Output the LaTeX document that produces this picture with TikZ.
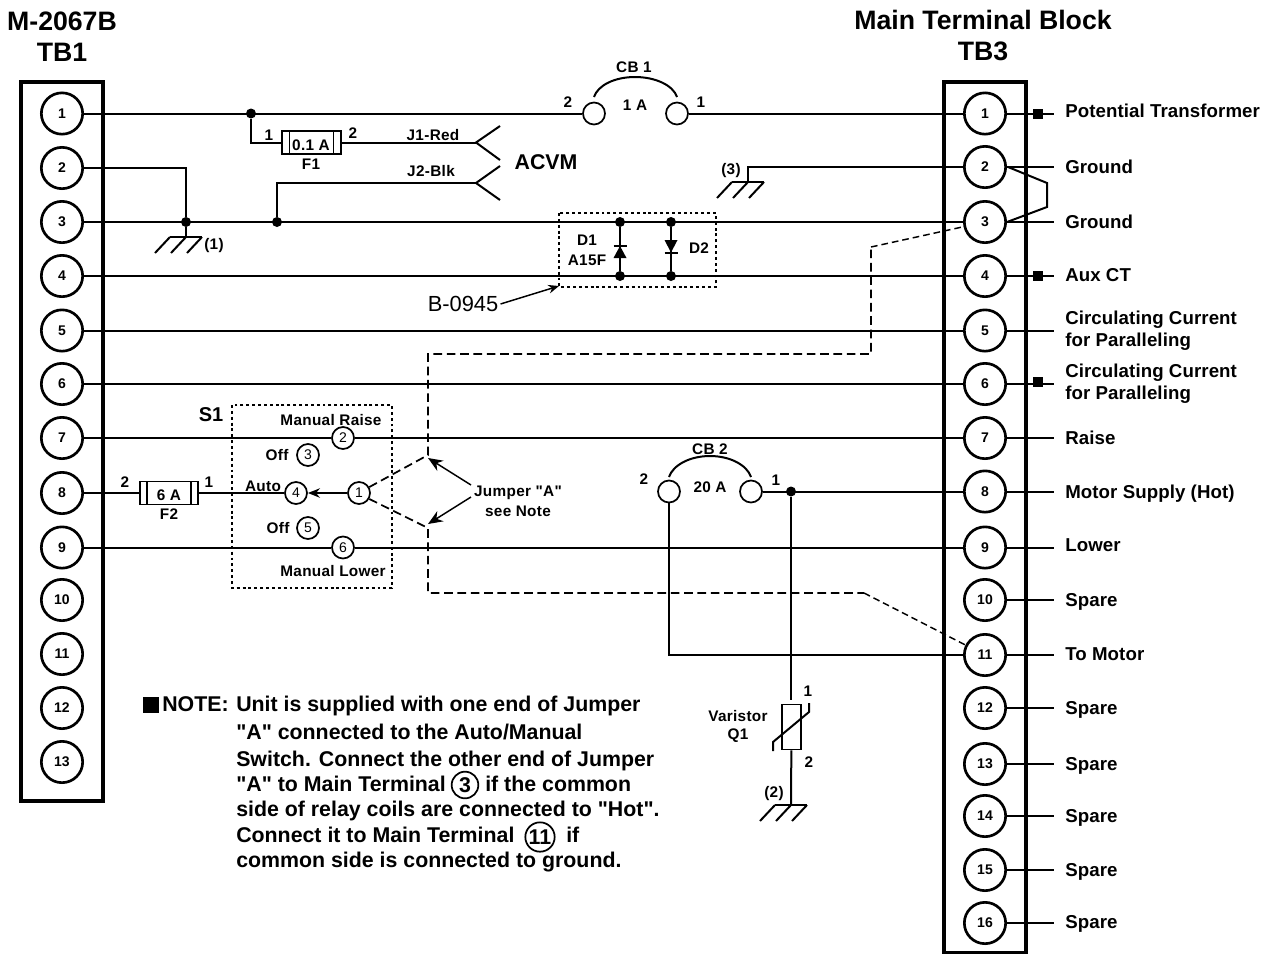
\documentclass[tikz,border=0pt]{standalone}
\usepackage{fontspec}
\setmainfont{Liberation Sans}[Ligatures=TeXOff]
\usetikzlibrary{arrows.meta}
\newcommand{\lblfont}{\bfseries\fontsize{11.5}{13}\selectfont\addfontfeature{LetterSpace=2}}
\newcommand{\sidefont}{\bfseries\fontsize{14}{16.5}\selectfont\addfontfeature{LetterSpace=0.5}}
\tikzset{
  wire/.style={line width=1.5pt},
  thinwire/.style={line width=1.1pt},
  jumper/.style={line width=1.3pt, dash pattern=on 6.5pt off 3.5pt},
  jumperthin/.style={line width=1.1pt, dash pattern=on 5pt off 3pt},
  dotbox/.style={line width=1.1pt, dash pattern=on 2.2pt off 2.2pt},
  tbframe/.style={line width=2.4pt},
  terminal/.style={draw, circle, line width=2pt, fill=white, minimum size=31pt, inner sep=0pt, font=\bfseries\fontsize{10.5}{12}\selectfont},
  swpos/.style={draw, circle, line width=1.3pt, fill=white, minimum size=16.5pt, inner sep=0pt, font=\fontsize{10.5}{12}\selectfont},
  notepos/.style={draw, circle, line width=1.3pt, inner sep=0pt},
  jct/.style={fill, circle, minimum size=7.5pt, inner sep=0pt},
  stubmark/.style={fill, rectangle, minimum size=7.5pt, inner sep=0pt},
  lbl/.style={inner sep=0pt, font=\lblfont},
  pinlbl/.style={inner sep=0pt, font=\lblfont},
  sidelbl/.style={inner sep=0pt, anchor=west, align=left, font=\sidefont},
  titlelbl/.style={inner sep=0pt, font=\bfseries\fontsize{20}{24}\selectfont},
  notelbl/.style={inner sep=0pt, anchor=base west, font=\bfseries\fontsize{16}{18}\selectfont},
  hatch/.pic={
    \draw[wire] (-16, 0) -- (16, 0) ;
    \draw[wire] (-16, 0) -- ++ (-15, 16) ;
    \draw[wire] (0, 0) -- ++ (-15, 16) ;
    \draw[wire] (16, 0) -- ++ (-15, 16) ;
  },
}
\begin{document}
\begin{tikzpicture}[x=0.75pt, y=-0.75pt]
    \useasboundingbox (0, 0) rectangle (1270, 954) ;
    \node[titlelbl] (titlem) at (62, 21) {M-2067B} ;
    \node[titlelbl] (titletbl) at (62, 52) {TB1} ;
    \node[titlelbl] (titlemain) at (983, 20) {Main Terminal Block} ;
    \node[titlelbl] (titletbr) at (983, 51) {TB3} ;
    \draw[tbframe] (21, 82) rectangle (103, 801) ;
    \draw[tbframe] (944, 82) rectangle (1026, 952.5) ;
    \node[terminal] (tbl1) at (62, 113.5) {1} ;
    \node[terminal] (tbl2) at (62, 168) {2} ;
    \node[terminal] (tbl3) at (62, 222) {3} ;
    \node[terminal] (tbl4) at (62, 276) {4} ;
    \node[terminal] (tbl5) at (62, 330.5) {5} ;
    \node[terminal] (tbl6) at (62, 384) {6} ;
    \node[terminal] (tbl7) at (62, 438) {7} ;
    \node[terminal] (tbl8) at (62, 493) {8} ;
    \node[terminal] (tbl9) at (62, 547.5) {9} ;
    \node[terminal] (tbl10) at (62, 600) {10} ;
    \node[terminal] (tbl11) at (62, 654) {11} ;
    \node[terminal] (tbl12) at (62, 708) {12} ;
    \node[terminal] (tbl13) at (62, 762) {13} ;
    \node[terminal] (tbr1) at (985, 113.5) {1} ;
    \node[terminal] (tbr2) at (985, 167) {2} ;
    \node[terminal] (tbr3) at (985, 222) {3} ;
    \node[terminal] (tbr4) at (985, 276) {4} ;
    \node[terminal] (tbr5) at (985, 330.5) {5} ;
    \node[terminal] (tbr6) at (985, 384) {6} ;
    \node[terminal] (tbr7) at (985, 438) {7} ;
    \node[terminal] (tbr8) at (985, 491.5) {8} ;
    \node[terminal] (tbr9) at (985, 547.5) {9} ;
    \node[terminal] (tbr10) at (985, 600) {10} ;
    \node[terminal] (tbr11) at (985, 655) {11} ;
    \node[terminal] (tbr12) at (985, 708) {12} ;
    \node[terminal] (tbr13) at (985, 764) {13} ;
    \node[terminal] (tbr14) at (985, 816) {14} ;
    \node[terminal] (tbr15) at (985, 870) {15} ;
    \node[terminal] (tbr16) at (985, 923) {16} ;
    \node[sidelbl] (namea) at (1065, 111) {Potential Transformer} ;
    \node[sidelbl] (nameb) at (1065, 167) {Ground} ;
    \node[sidelbl] (namec) at (1065, 222) {Ground} ;
    \node[sidelbl] (named) at (1065, 275) {Aux CT} ;
    \node[sidelbl] (namee) at (1065, 331) {Circulating Current\\for Paralleling} ;
    \node[sidelbl] (namef) at (1065, 384) {Circulating Current\\for Paralleling} ;
    \node[sidelbl] (nameg) at (1065, 438) {Raise} ;
    \node[sidelbl] (nameh) at (1065, 494) {Motor Supply (Hot)} ;
    \node[sidelbl] (namei) at (1065, 545) {Lower} ;
    \node[sidelbl] (namej) at (1065, 602) {Spare} ;
    \node[sidelbl] (namek) at (1065, 654) {To Motor} ;
    \node[sidelbl] (namel) at (1065, 710) {Spare} ;
    \node[sidelbl] (namem) at (1065, 766) {Spare} ;
    \node[sidelbl] (namen) at (1065, 818) {Spare} ;
    \node[sidelbl] (nameo) at (1065, 872) {Spare} ;
    \node[sidelbl] (namep) at (1065, 924) {Spare} ;
    \coordinate (stuba) at (1054, 113.5) ;
    \coordinate (stubb) at (1054, 167) ;
    \coordinate (stubc) at (1054, 222) ;
    \coordinate (stubd) at (1054, 276) ;
    \coordinate (stube) at (1054, 330.5) ;
    \coordinate (stubf) at (1054, 384) ;
    \coordinate (stubg) at (1054, 438) ;
    \coordinate (stubh) at (1054, 491.5) ;
    \coordinate (stubi) at (1054, 547.5) ;
    \coordinate (stubj) at (1054, 600) ;
    \coordinate (stubk) at (1054, 655) ;
    \coordinate (stubl) at (1054, 708) ;
    \coordinate (stubm) at (1054, 764) ;
    \coordinate (stubn) at (1054, 816) ;
    \coordinate (stubo) at (1054, 870) ;
    \coordinate (stubp) at (1054, 923) ;
    \draw[wire] (tbr1) -- (stuba) ;
    \draw[wire] (tbr2) -- (stubb) ;
    \draw[wire] (tbr3) -- (stubc) ;
    \draw[wire] (tbr4) -- (stubd) ;
    \draw[wire] (tbr5) -- (stube) ;
    \draw[wire] (tbr6) -- (stubf) ;
    \draw[wire] (tbr7) -- (stubg) ;
    \draw[wire] (tbr8) -- (stubh) ;
    \draw[wire] (tbr9) -- (stubi) ;
    \draw[wire] (tbr10) -- (stubj) ;
    \draw[wire] (tbr11) -- (stubk) ;
    \draw[wire] (tbr12) -- (stubl) ;
    \draw[wire] (tbr13) -- (stubm) ;
    \draw[wire] (tbr14) -- (stubn) ;
    \draw[wire] (tbr15) -- (stubo) ;
    \draw[wire] (tbr16) -- (stubp) ;
    \node[stubmark] (marka) at (1038, 113.5) {} ;
    \node[stubmark] (markd) at (1038, 276) {} ;
    \node[stubmark] (markf) at (1038, 382) {} ;
    \coordinate (bridgea) at (1047, 183) ;
    \coordinate (bridgeb) at (1047, 207) ;
    \draw[wire] (tbr2.east) ++ (1, 0) -- (bridgea) -- (bridgeb) -- (tbr3.east) ;
    \node[swpos] (cbaleft) at (594, 113.5) {} ;
    \node[swpos] (cbaright) at (677, 113.5) {} ;
    \draw[wire] (tbl1) -- (cbaleft) ;
    \draw[wire] (cbaright) -- (tbr1) ;
    \draw[wire] (594, 97) .. controls (598, 85) and (615, 77) .. (635, 77) .. controls (655, 77) and (673, 85) .. (677, 97) ;
    \node[pinlbl] (cbaname) at (634, 67) {CB 1} ;
    \node[pinlbl] (cbarate) at (635, 105) {1 A} ;
    \node[pinlbl] (cbapinb) at (568, 102) {2} ;
    \node[pinlbl] (cbapina) at (701, 102) {1} ;
    \node[jct] (jcta) at (251, 113.5) {} ;
    \node[draw, line width=1.1pt, minimum width=44pt, minimum height=17pt, inner sep=0pt] (fusea) at (311.5, 142.5) {} ;
    \draw[thinwire] (289.5, 131) -- (289.5, 154) ;
    \draw[thinwire] (333.5, 131) -- (333.5, 154) ;
    \node[lbl] (fuseavalue) at (311, 145) {0.1 A} ;
    \node[lbl] (fuseaname) at (311, 164) {F1} ;
    \node[pinlbl] (fuseapina) at (269, 135) {1} ;
    \node[pinlbl] (fuseapinb) at (353, 133) {2} ;
    \coordinate (forka) at (476, 142.5) ;
    \coordinate (forkb) at (476, 183) ;
    \draw[wire] (jcta) |- (fusea) ;
    \draw[wire] (fusea) -- (forka) ;
    \draw[wire] (500, 126) -- (forka) -- (500, 160) ;
    \draw[wire] (500, 166) -- (forkb) -- (500, 200) ;
    \node[lbl] (jrednm) at (433, 135) {J1-Red} ;
    \node[lbl] (jblknm) at (431, 171) {J2-Blk} ;
    \node[inner sep=0pt, font=\bfseries\fontsize{16}{18}\selectfont] (acvm) at (546, 162) {ACVM} ;
    \node[jct] (jctb) at (186, 222) {} ;
    \node[jct] (jctc) at (277, 222) {} ;
    \draw[wire] (tbl2) -| (jctb) ;
    \draw[wire] (tbl3) -- (tbr3) ;
    \draw[wire] (jctc) |- (forkb) ;
    \coordinate (gnda) at (186, 237) ;
    \draw[wire] (jctb) -- (gnda) ;
    \pic at (gnda) {hatch} ;
    \node[pinlbl] (gndaname) at (214, 246) {(1)} ;
    \coordinate (gndb) at (748, 182) ;
    \draw[wire] (tbr2) -| (gndb) ;
    \pic at (gndb) {hatch} ;
    \node[pinlbl] (gndbname) at (731, 171) {(3)} ;
    \draw[wire] (tbl4) -- (tbr4) ;
    \draw[wire] (tbl5) -- (tbr5) ;
    \draw[wire] (tbl6) -- (tbr6) ;
    \draw[dotbox] (559, 213) rectangle (716, 287) ;
    \node[jct] (diodeat) at (620, 222) {} ;
    \node[jct] (diodeab) at (620, 276) {} ;
    \node[jct] (diodebt) at (671, 222) {} ;
    \node[jct] (diodebb) at (671, 276) {} ;
    \draw[wire] (diodeat) -- (diodeab) ;
    \draw[wire] (diodebt) -- (diodebb) ;
    \fill (613.5, 258) -- (626.5, 258) -- (620, 246) -- cycle ;
    \draw[wire] (613.5, 246) -- (626.5, 246) ;
    \fill (664.5, 240) -- (677.5, 240) -- (671, 252.5) -- cycle ;
    \draw[wire] (664.5, 252.5) -- (677.5, 252.5) ;
    \node[lbl] (diodeaname) at (587, 240) {D1} ;
    \node[lbl] (diodeatype) at (587, 260) {A15F} ;
    \node[lbl] (diodebname) at (699, 248) {D2} ;
    \node[inner sep=0pt, font=\fontsize{16.4}{18}\selectfont] (boardname) at (463, 304) {B-0945} ;
    \coordinate (boardcorner) at (559, 286) ;
    \draw[thinwire, -{Stealth[length=8pt, width=6.5pt]}] (boardname.east) ++ (2, 0) -- (boardcorner) ;
    \draw[dotbox] (232, 405) rectangle (392, 588) ;
    \node[inner sep=0pt, font=\bfseries\fontsize{15}{18}\selectfont] (swname) at (211, 415) {S1} ;
    \node[lbl] (swraise) at (331, 420) {Manual Raise} ;
    \node[lbl] (swlower) at (333, 571) {Manual Lower} ;
    \node[lbl] (swauto) at (263, 486) {Auto} ;
    \node[lbl] (swoffa) at (277, 455) {Off} ;
    \node[lbl] (swoffb) at (278, 528) {Off} ;
    \node[swpos] (swa) at (359, 493) {1} ;
    \node[swpos] (swb) at (343, 438) {2} ;
    \node[swpos] (swc) at (308, 455) {3} ;
    \node[swpos] (swd) at (296, 493) {4} ;
    \node[swpos] (swe) at (308, 528) {5} ;
    \node[swpos] (swf) at (343, 547.5) {6} ;
    \draw[wire] (tbl7) -- (swb) ;
    \draw[wire] (swb) -- (tbr7) ;
    \draw[wire] (tbl9) -- (swf) ;
    \draw[wire] (swf) -- (tbr9) ;
    \draw[wire, -{Stealth[length=9pt, width=7pt]}] (swa) -- (swd) ;
    \node[draw, line width=1.1pt, minimum width=43.5pt, minimum height=17pt, inner sep=0pt] (fuseb) at (169, 493) {} ;
    \draw[thinwire] (147, 482) -- (147, 504) ;
    \draw[thinwire] (191, 482) -- (191, 504) ;
    \node[lbl] (fusebvalue) at (169, 495) {6 A} ;
    \node[lbl] (fusebname) at (169, 514) {F2} ;
    \node[pinlbl] (fusebpinb) at (125, 482) {2} ;
    \node[pinlbl] (fusebpina) at (209, 482) {1} ;
    \draw[wire] (tbl8) -- (fuseb) ;
    \draw[wire] (fuseb) -- (swd) ;
    \coordinate (jumpa) at (428, 455) ;
    \coordinate (jumpb) at (428, 354) ;
    \coordinate (jumpc) at (871, 354) ;
    \coordinate (jumpd) at (871, 247) ;
    \coordinate (jumpe) at (428, 528) ;
    \coordinate (jumpf) at (428, 593) ;
    \coordinate (jumpg) at (864, 593) ;
    \draw[jumper] (swa.30) -- (jumpa) -- (jumpb) -- (jumpc) -- (jumpd) ;
    \draw[jumperthin] (jumpd) -- (tbr3) ;
    \draw[jumper] (swa.-30) -- (jumpe) -- (jumpf) -- (jumpg) ;
    \draw[jumperthin] (jumpg) -- (tbr11) ;
    \node[lbl, align=center] (jumpname) at (518, 501) {Jumper "A"\\[2pt]see Note} ;
    \coordinate (jumparrowa) at (428, 458) ;
    \coordinate (jumparrowb) at (428, 524) ;
    \draw[thinwire, -{Stealth[length=11pt, width=9pt]}] (471, 485) -- (jumparrowa) ;
    \draw[thinwire, -{Stealth[length=11pt, width=9pt]}] (471, 497) -- (jumparrowb) ;
    \node[swpos] (cbbleft) at (669, 491.5) {} ;
    \node[swpos] (cbbright) at (751, 491.5) {} ;
    \node[jct] (jctd) at (791, 491.5) {} ;
    \draw[wire] (cbbright) -- (tbr8) ;
    \draw[wire] (669, 477) .. controls (673, 465) and (690, 456) .. (710, 456) .. controls (730, 456) and (747, 465) .. (751, 477) ;
    \node[pinlbl] (cbbname) at (710, 449) {CB 2} ;
    \node[pinlbl] (cbbrate) at (710, 487) {20 A} ;
    \node[pinlbl] (cbbpinb) at (644, 479) {2} ;
    \node[pinlbl] (cbbpina) at (776, 480) {1} ;
    \draw[wire] (cbbleft) |- (tbr11) ;
    \node[draw, line width=1.1pt, minimum width=14pt, minimum height=34pt, inner sep=0pt] (varistor) at (791.5, 727) {} ;
    \coordinate (varistortop) at (791, 700) ;
    \coordinate (gndc) at (791, 805) ;
    \draw[wire] (jctd) -- (varistortop) ;
    \draw[wire] (varistor) -- (gndc) ;
    \draw[wire] (773, 751) -- (773, 742) -- (809, 712) -- (809, 703) ;
    \pic at (gndc) {hatch} ;
    \node[pinlbl] (varistorpina) at (808, 691) {1} ;
    \node[pinlbl] (varistorpinb) at (809, 762) {2} ;
    \node[lbl] (varistorname) at (738, 716) {Varistor} ;
    \node[lbl] (varistorq) at (738, 736) {Q1} ;
    \node[pinlbl] (gndcname) at (774, 794) {(2)} ;
    \node[fill, rectangle, minimum size=12pt, inner sep=0pt] (notemark) at (151, 705) {} ;
    \node[notelbl] (notehead) at (162, 711) {NOTE:} ;
    \node[notelbl] (notea) at (236, 711) {Unit is supplied with one end of Jumper} ;
    \node[notelbl] (noteb) at (236, 739) {"A" connected to the Auto/Manual} ;
    \node[notelbl] (notec) at (236, 766) {Switch. Connect the other end of Jumper} ;
    \node[notelbl] (noted) at (236, 791) {"A" to Main Terminal} ;
    \node[notepos, minimum size=20pt, font=\bfseries\fontsize{16}{18}\selectfont] (notethree) at (465, 785) {3} ;
    \node[notelbl] (notedd) at (485, 791) {if the common} ;
    \node[notelbl] (notee) at (236, 816) {side of relay coils are connected to "Hot".} ;
    \node[notelbl] (notef) at (236, 842) {Connect it to Main Terminal} ;
    \node[notepos, minimum size=22pt, font=\bfseries\fontsize{16}{18}\selectfont] (noteeleven) at (540, 837) {11} ;
    \node[notelbl] (noteff) at (566, 842) {if} ;
    \node[notelbl] (noteg) at (236, 867) {common side is connected to ground.} ;
\end{tikzpicture}
\end{document}
